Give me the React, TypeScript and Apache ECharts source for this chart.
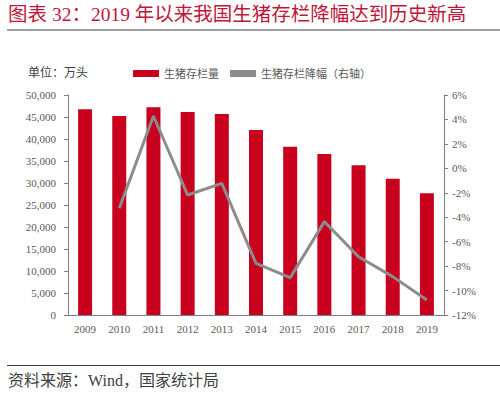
import React, { useEffect, useRef } from "react";
import * as echarts from "echarts";

const years = ["2009", "2010", "2011", "2012", "2013", "2014", "2015", "2016", "2017", "2018", "2019"];
const inventory = [46750, 45230, 47200, 46140, 45680, 42050, 38250, 36600, 34020, 30980, 27660];
const declinePct = [null, -3.27, 4.28, -2.18, -1.23, -7.77, -8.95, -4.36, -7.23, -8.86, -10.77];

const FONT = '"Liberation Serif", "DejaVu Serif", "Noto Sans CJK SC", serif';
const RED = "#c8001e";
const GRAY = "#8c8c8c";

export default function App() {
  const ref = useRef<HTMLDivElement>(null);
  useEffect(() => {
    if (!ref.current) return;
    const chart = echarts.init(ref.current, undefined, { renderer: "svg" });
    chart.setOption({
      animation: false,
      backgroundColor: "#ffffff",
      grid: { left: 68, right: 56, top: 95, bottom: 80 },
      legend: {
        top: 63,
        left: 128,
        itemWidth: 26,
        itemHeight: 7,
        itemGap: 11,
        textStyle: { fontFamily: FONT, fontSize: 11, color: "#595959" },
        data: [
          { name: "生猪存栏量", icon: "rect" },
          { name: "生猪存栏降幅（右轴）", icon: "rect" },
        ],
      },
      xAxis: {
        type: "category",
        data: years,
        axisLine: { lineStyle: { color: "#7f7f7f" } },
        axisTick: { show: false },
        axisLabel: { fontFamily: FONT, fontSize: 11, color: "#595959", margin: 8 },
      },
      yAxis: [
        {
          type: "value",
          min: 0,
          max: 50000,
          interval: 5000,
          splitLine: { show: false },
          axisLine: { show: true, lineStyle: { color: "#7f7f7f" } },
          axisTick: { show: true, inside: false, length: 4, lineStyle: { color: "#7f7f7f" } },
          axisLabel: {
            fontFamily: FONT,
            fontSize: 11,
            color: "#595959",
            margin: 12,
            formatter: (v: number) => v.toLocaleString("en-US"),
          },
        },
        {
          type: "value",
          min: -12,
          max: 6,
          interval: 2,
          splitLine: { show: false },
          axisLine: { show: true, lineStyle: { color: "#7f7f7f" } },
          axisTick: { show: true, length: 4, lineStyle: { color: "#7f7f7f" } },
          axisLabel: { fontFamily: FONT, fontSize: 11, color: "#595959", margin: 8, formatter: "{value}%" },
        },
      ],
      series: [
        {
          name: "生猪存栏量",
          type: "bar",
          data: inventory,
          barWidth: 14,
          itemStyle: { color: RED },
        },
        {
          name: "生猪存栏降幅（右轴）",
          type: "line",
          yAxisIndex: 1,
          data: declinePct,
          symbol: "none",
          lineStyle: { color: GRAY, width: 3 },
          itemStyle: { color: GRAY },
        },
      ],
      graphic: [
        {
          type: "text",
          left: 8,
          top: 5,
          style: { text: "图表 32：2019 年以来我国生猪存栏降幅达到历史新高", fontFamily: FONT, fontSize: 19.5, fill: "#c0163c" },
        },
        { type: "line", shape: { x1: 7, y1: 30, x2: 500, y2: 30 }, style: { stroke: "#404040", lineWidth: 1 } },
        {
          type: "text",
          left: 28,
          top: 67,
          style: { text: "单位：万头", fontFamily: FONT, fontSize: 12, fill: "#404040" },
        },
        { type: "line", shape: { x1: 7, y1: 365.5, x2: 500, y2: 365.5 }, style: { stroke: "#404040", lineWidth: 1 } },
        {
          type: "text",
          left: 8,
          top: 372,
          style: { text: "资料来源：Wind，国家统计局", fontFamily: FONT, fontSize: 16, fill: "#404040" },
        },
      ],
    });
    return () => chart.dispose();
  }, []);
  return <div ref={ref} style={{ width: 500, height: 395, position: "absolute", left: 0, top: 0 }} />;
}
